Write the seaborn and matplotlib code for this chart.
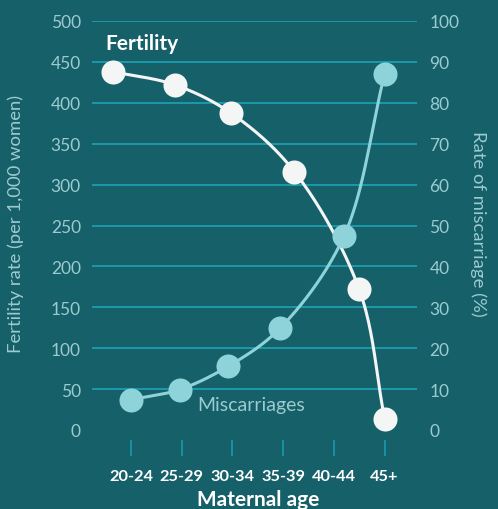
import numpy as np
import pandas as pd
import seaborn as sns
import matplotlib.pyplot as plt

# age groups on the x axis (tick placed at the middle age of each group)
age_groups = ["20-24", "25-29", "30-34", "35-39", "40-44", "45+"]
tick_ages = [22, 27, 32, 37, 42, 47]

# fertility rate (per 1,000 women), left axis
fert_age = [20.2, 26.3, 31.9, 38.1, 44.5, 47.0]
fert_rate = [438, 422, 387, 316, 172, 14]

# miscarriage rate (%), right axis
misc_age = [22.0, 26.8, 31.6, 36.7, 43.0, 47.0]
misc_rate = [7.4, 9.9, 15.6, 24.9, 47.4, 87.0]

BG = "#16606a"
GRID = "#1b9fb2"
MUTED = "#9ccbcf"
FERT = "#f4f6f6"
MISC = "#8fd3da"


def smooth(xs, ys, sx, sy, n=40):
    # centripetal catmull-rom through the points, for drawing the curve only
    P = np.column_stack([np.asarray(xs, float) * sx, np.asarray(ys, float) * sy])
    P = np.vstack([2 * P[0] - P[1], P, 2 * P[-1] - P[-2]])
    out = []
    for i in range(1, len(P) - 2):
        p0, p1, p2, p3 = P[i - 1], P[i], P[i + 1], P[i + 2]
        t0 = 0.0
        t1 = t0 + np.linalg.norm(p1 - p0) ** 0.5
        t2 = t1 + np.linalg.norm(p2 - p1) ** 0.5
        t3 = t2 + np.linalg.norm(p3 - p2) ** 0.5
        t = np.linspace(t1, t2, n)[:, None]
        A1 = (t1 - t) / (t1 - t0) * p0 + (t - t0) / (t1 - t0) * p1
        A2 = (t2 - t) / (t2 - t1) * p1 + (t - t1) / (t2 - t1) * p2
        A3 = (t3 - t) / (t3 - t2) * p2 + (t - t2) / (t3 - t2) * p3
        B1 = (t2 - t) / (t2 - t0) * A1 + (t - t0) / (t2 - t0) * A2
        B2 = (t3 - t) / (t3 - t1) * A2 + (t - t1) / (t3 - t1) * A3
        out.append((t2 - t) / (t2 - t1) * B1 + (t - t1) / (t2 - t1) * B2)
    C = np.vstack(out)
    return C[:, 0] / sx, C[:, 1] / sy


sns.set_style("white")
plt.rcParams["font.family"] = ["Lato", "DejaVu Sans"]

fig = plt.figure(figsize=(4.98, 5.10), dpi=100, facecolor=BG)
ax = fig.add_axes([92 / 498, 79 / 510, 325 / 498, 409 / 510])
ax.set_facecolor(BG)
ax2 = ax.twinx()
ax2.patch.set_visible(False)

ax.set_xlim(18.15, 50.2)
ax.set_ylim(0, 500)
ax2.set_ylim(0, 100)

# fertility curve + points
fx, fy = smooth(fert_age, fert_rate, 10.14, 0.818)
sns.lineplot(x=fx, y=fy, sort=False, estimator=None, color=FERT, lw=2.2, ax=ax)
sns.scatterplot(x=fert_age, y=fert_rate, color=FERT, s=300, linewidth=0,
                ax=ax, zorder=5, clip_on=False)

# miscarriage curve + points
mx, my = smooth(misc_age, misc_rate, 10.14, 4.09)
sns.lineplot(x=mx, y=my, sort=False, estimator=None, color=MISC, lw=2.2, ax=ax2)
sns.scatterplot(x=misc_age, y=misc_rate, color=MISC, s=300, linewidth=0,
                ax=ax2, zorder=5, clip_on=False)

# axes styling
for a in (ax, ax2):
    for s in a.spines.values():
        s.set_visible(False)

ax.set_yticks(range(0, 501, 50))
ax2.set_yticks(range(0, 101, 10))
ax.grid(axis="y", color=GRID, lw=1.3)
ax.grid(axis="x", visible=False)
ax.get_ygridlines()[0].set_visible(False)
ax2.grid(False)

ax.tick_params(axis="y", length=0, pad=8, labelsize=12.5, labelcolor=MUTED)
ax2.tick_params(axis="y", length=0, pad=9, labelsize=12.5, labelcolor=MUTED)

ax.set_xticks(tick_ages)
ax.set_xticklabels(age_groups)
ax.spines["bottom"].set_position(("outward", 7.2))
ax.tick_params(axis="x", bottom=True, length=11.5, width=1.1, color=GRID,
               pad=9.5, labelsize=11.8, labelcolor="white")
for lab in ax.get_xticklabels():
    lab.set_fontweight("bold")

ax.set_ylabel("Fertility rate (per 1,000 women)", fontsize=13.3, color=MUTED)
ax.yaxis.set_label_coords(-0.209, 0.507)
ax2.set_ylabel("Rate of miscarriage (%)", fontsize=13.3, color=MUTED,
               rotation=270, va="center")
ax2.yaxis.set_label_coords(1.188, 0.507)
ax.set_xlabel("")

fig.text(258 / 498, 1 - 506 / 510, "Maternal age", ha="center", va="baseline",
         fontsize=15, fontweight="bold", color="white")
fig.text(105 / 498, 1 - 50 / 510, "Fertility", ha="left", va="baseline",
         fontsize=15, fontweight="bold", color="white")
fig.text(197 / 498, 1 - 411 / 510, "Miscarriages", ha="left", va="baseline",
         fontsize=14, color=MUTED)

fig.savefig("out.png", dpi=100, facecolor=BG)
